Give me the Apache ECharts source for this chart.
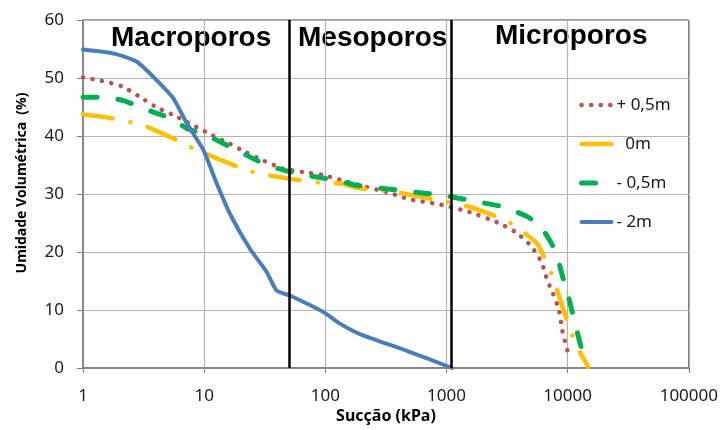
<!DOCTYPE html>
<html>
<head>
<meta charset="utf-8">
<script src="https://cdn.jsdelivr.net/npm/echarts@6/dist/echarts.min.js"></script>
<style>
  html, body { margin: 0; padding: 0; background: #fff; }
  #chart { width: 721px; height: 430px; }
</style>
</head>
<body>
<div id="chart"></div>
<script>
// 数据
const nomes = ['+ 0,5m', '  0m', '- 0,5m', '- 2m'];

const mais05 = [[1, 50.1], [1.43, 49.5], [2.07, 48.6], [2.87, 46.9], [4.0, 45.0], [5.57, 43.6], [7.9, 42.0],
    [11.2, 40.3], [15.8, 38.8], [22.1, 37.2], [31.2, 35.7], [44.3, 34.4], [64.7, 33.8], [94.5, 33.3],
    [164, 31.9], [349, 30.1], [494, 29.1], [873, 28.2], [1541, 26.9], [2630, 25.1], [3730, 23.4],
    [4956, 21.1], [6100, 18.2], [6790, 15.1], [7470, 13.1], [8480, 10.0], [9020, 6.5], [9930, 3.0]];

const zero = [[1, 43.7], [1.58, 43.2], [2.23, 42.6], [3.26, 41.7], [5.94, 39.3], [8.4, 37.7], [11.9, 36.4],
    [22.4, 34.1], [32.7, 33.3], [47.7, 32.7], [92.7, 31.9], [135, 31.8], [191, 31.0], [360, 30.4],
    [873, 28.9], [1541, 27.8], [2250, 26.6], [3184, 25.3], [5460, 21.7], [6590, 18.6], [7710, 15.1],
    [9330, 9.7], [10700, 6.1], [12800, 2.5], [14800, 0.2]];

const menos05 = [[1, 46.7], [1.53, 46.7], [2.16, 46.1], [2.96, 45.0], [4.06, 43.9], [5.4, 43.0], [7.18, 41.3],
    [9.84, 40.4], [13.5, 39.0], [17.9, 37.7], [25.4, 36.1], [32.7, 35.0], [47.7, 34.0], [63.4, 33.4],
    [92.7, 32.8], [123, 32.4], [180, 31.5], [384, 30.7], [678, 30.1], [929, 29.8], [1541, 28.9],
    [2900, 27.8], [4650, 26.1], [6000, 24.3], [7250, 21.7], [8210, 19.2], [9020, 16.0], [9930, 13.1],
    [10900, 9.7], [11600, 7.4], [12800, 3.9], [14100, 1.0]];

const menos2 = [[1, 54.9], [1.8, 54.2], [2.78, 52.8], [4.06, 49.6], [5.57, 46.5], [7.18, 42.2], [9.84, 37.6],
    [12.7, 31.8], [16.3, 26.6], [23.8, 20.6], [32.7, 16.6], [39.5, 13.4], [50.9, 12.5], [95.6, 9.7],
    [131, 7.7], [191, 5.9], [494, 2.8], [1110, 0]];

// 分区边界（kPa）
const limites = [50, 1100];
const regioes = ['Macroporos', 'Mesoporos', 'Microporos'];

const chart = echarts.init(document.getElementById('chart'), null, { renderer: 'canvas' });

const fonte = '"Noto Sans", sans-serif';
const fonteTitulo = 'bold 28px "Liberation Sans", Arial, sans-serif';

function serie(nome, dados, cor, largura, tipo, extra) {
    const s = {
        name: nome,
        type: 'line',
        data: dados,
        showSymbol: false,
        symbol: 'none',
        smooth: 0.2,
        silent: true,
        animation: false,
        lineStyle: { color: cor, width: largura, type: tipo, cap: 'round', join: 'round' },
        itemStyle: { color: cor }
    };
    return Object.assign(s, extra || {});
}

const option = {
    animation: false,
    backgroundColor: '#fff',
    grid: {
        left: 83, right: 31, top: 20, bottom: 62,
        show: true, borderColor: '#3a3a3a', borderWidth: 1
    },
    xAxis: {
        type: 'log',
        logBase: 10,
        min: 1,
        max: 100000,
        axisLine: { lineStyle: { color: '#7f7f7f', width: 1.5 } },
        axisTick: { show: true, length: 5, lineStyle: { color: '#7f7f7f' } },
        axisLabel: {
            color: '#1a1a1a', fontSize: 17, fontFamily: fonte, margin: 20,
            formatter: v => String(Math.round(v))
        },
        splitLine: { show: true, lineStyle: { color: '#b4b4b4', width: 1.2 } }
    },
    yAxis: {
        type: 'value',
        min: 0,
        max: 60,
        interval: 10,
        axisLine: { show: true, lineStyle: { color: '#7f7f7f', width: 1.5 } },
        axisTick: { show: true, length: 6, lineStyle: { color: '#7f7f7f' } },
        axisLabel: { color: '#1a1a1a', fontSize: 17, fontFamily: fonte, margin: 19 },
        splitLine: { show: true, lineStyle: { color: '#b4b4b4', width: 1.2 } }
    },
    legend: {
        orient: 'vertical',
        left: 574,
        top: 90,
        itemWidth: 30,
        itemHeight: 14,
        itemGap: 19,
        // 图例只画线，不画圆点
        itemStyle: { opacity: 0 },
        lineStyle: { width: 'inherit', type: 'inherit', cap: 'round' },
        data: nomes,
        textStyle: { color: '#1a1a1a', fontSize: 17, fontFamily: fonte, lineHeight: 20 }
    },
    graphic: [
        { type: 'text', left: 111, top: 24, style: { text: regioes[0], font: fonteTitulo, fill: '#000' } },
        { type: 'text', left: 298, top: 24, style: { text: regioes[1], font: fonteTitulo, fill: '#000' } },
        { type: 'text', left: 495, top: 22, style: { text: regioes[2], font: fonteTitulo, fill: '#000' } },
        {
            type: 'text', x: 22, y: 183, rotation: Math.PI / 2,
            style: { text: 'Umidade Volumétrica  (%)', font: 'bold 14px "Noto Sans", sans-serif', fill: '#000', align: 'center', verticalAlign: 'middle' }
        },
        {
            type: 'text', x: 386, y: 416,
            style: { text: 'Sucção (kPa)', font: 'bold 16px "Noto Sans", sans-serif', fill: '#000', align: 'center', verticalAlign: 'middle' }
        }
    ],
    series: [
        serie(nomes[0], mais05, '#C0504D', 4.5, [0.1, 9.5]),
        serie(nomes[1], zero, '#FFC000', 4.5, [30, 18, 0.1, 18]),
        serie(nomes[2], menos05, '#00B050', 5, [14, 21]),
        serie(nomes[3], menos2, '#4A7EBB', 4, 'solid', {
            // 分区竖线
            markLine: {
                silent: true,
                symbol: 'none',
                label: { show: false },
                lineStyle: { color: '#000', width: 2.5, type: 'solid' },
                data: limites.map(v => ({ xAxis: v }))
            }
        })
    ]
};

chart.setOption(option);
</script>
</body>
</html>
